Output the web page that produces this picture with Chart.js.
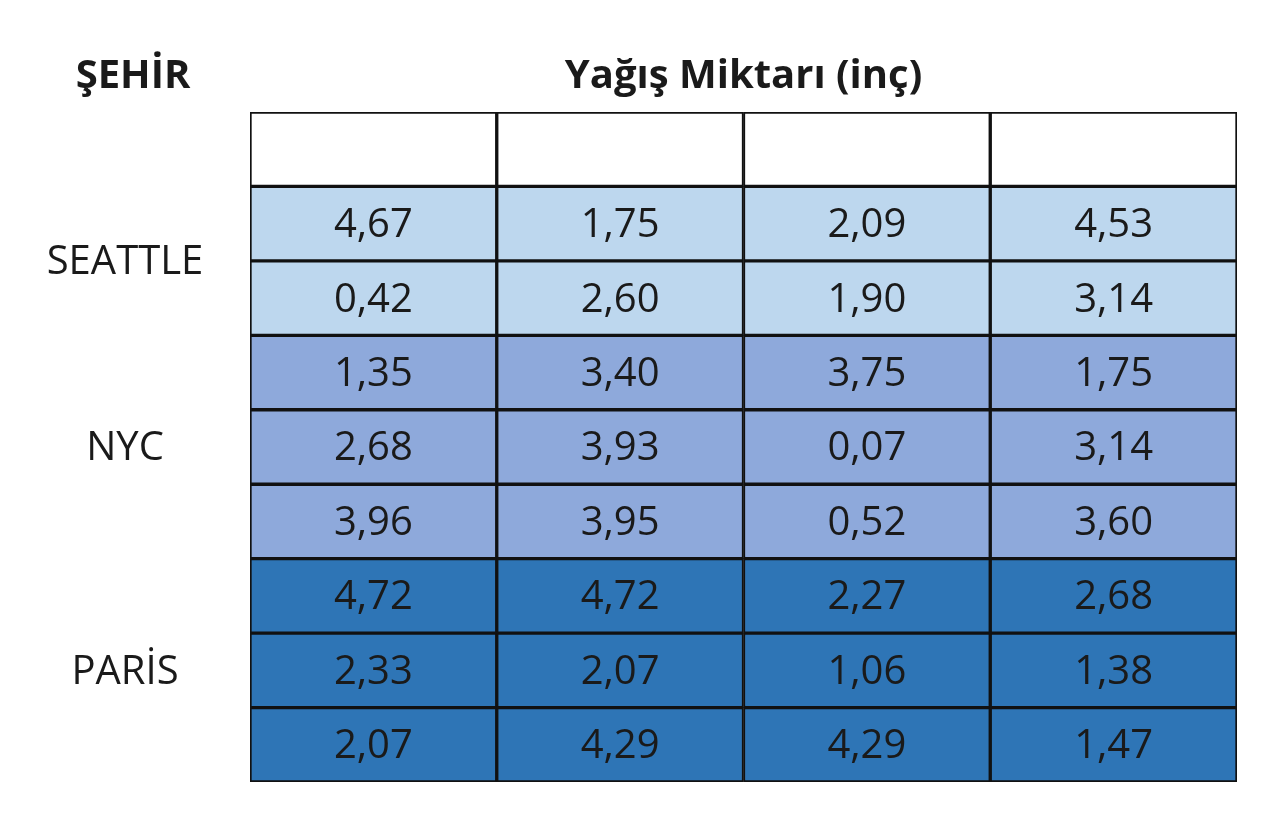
<!DOCTYPE html>
<html>
<head>
<meta charset="utf-8">
<script src="https://cdn.jsdelivr.net/npm/chart.js@4"></script>
<style>
  html, body { margin: 0; padding: 0; background: #ffffff; }
  #wrap { width: 1280px; height: 832px; }
</style>
</head>
<body>
<div id="wrap"><canvas id="myChart" width="1280" height="832"></canvas></div>
<script>
const columns = ['A', 'B', 'C', 'D'];
const cities = ['SEATTLE', 'NYC', 'PARİS'];
const cityRows = [2, 3, 3]; // rows per city
const cityColors = ['#BDD7EE', '#8EA9DB', '#2E75B6'];

const rainfall = [
    [4.67, 1.75, 2.09, 4.53],
    [0.42, 2.60, 1.90, 3.14],
    [1.35, 3.40, 3.75, 1.75],
    [2.68, 3.93, 0.07, 3.14],
    [3.96, 3.95, 0.52, 3.60],
    [4.72, 4.72, 2.27, 2.68],
    [2.33, 2.07, 1.06, 1.38],
    [2.07, 4.29, 4.29, 1.47]
];

const fontFamily = '"Open Sans", "Noto Sans", sans-serif';

// row colour from the city it belongs to
let rowColors = [];
cityRows.forEach((n, c) => { for (let i = 0; i < n; i++) rowColors.push(cityColors[c]); });

let datasets = [{
    label: 'header',
    data: columns.map(() => [0, 1]),
    backgroundColor: '#FFFFFF',
    values: null
}];
rainfall.forEach((row, i) => {
    datasets.push({
        label: 'row' + i,
        data: row.map(() => [i + 1, i + 2]),
        backgroundColor: rowColors[i],
        values: row
    });
});
datasets.forEach(d => {
    d.borderColor = '#111111';
    d.borderWidth = 2;
    d.borderSkipped = false;
    d.barPercentage = 1;
    d.categoryPercentage = 1;
});

const tableText = {
    id: 'tableText',
    afterDatasetsDraw(chart) {
        const ctx = chart.ctx;
        const area = chart.chartArea;
        ctx.save();
        ctx.textAlign = 'center';
        ctx.textBaseline = 'middle';
        ctx.fillStyle = '#1a1a1a';
        ctx.font = '40px ' + fontFamily;
        chart.data.datasets.forEach((ds, di) => {
            if (!ds.values) return;
            chart.getDatasetMeta(di).data.forEach((el, j) => {
                const txt = ds.values[j].toFixed(2).replace('.', ',');
                ctx.fillText(txt, el.x, (el.y + el.base) / 2 + 2);
            });
        });
        // headings
        ctx.font = 'bold 40px ' + fontFamily;
        ctx.fillText('ŞEHİR', 133, 77);
        ctx.fillText('Yağış Miktarı (inç)', (area.left + area.right) / 2, 77);
        // city labels
        const ys = chart.scales.y;
        ctx.font = '40px ' + fontFamily;
        let start = 1;
        cities.forEach((c, k) => {
            const mid = start + cityRows[k] / 2;
            ctx.fillText(c, 125, ys.getPixelForValue(mid) + 2);
            start += cityRows[k];
        });
        ctx.restore();
    }
};

const config = {
    type: 'bar',
    data: { labels: columns, datasets: datasets },
    options: {
        responsive: false,
        animation: false,
        layout: { padding: { left: 250, right: 43, top: 112, bottom: 50 } },
        plugins: {
            legend: { display: false },
            tooltip: { enabled: false }
        },
        scales: {
            x: { stacked: true, display: false, grid: { display: false } },
            y: { stacked: false, display: false, min: 0, max: 9, reverse: true }
        }
    },
    plugins: [tableText]
};

const myChart = new Chart(document.getElementById('myChart'), config);
</script>
</body>
</html>
